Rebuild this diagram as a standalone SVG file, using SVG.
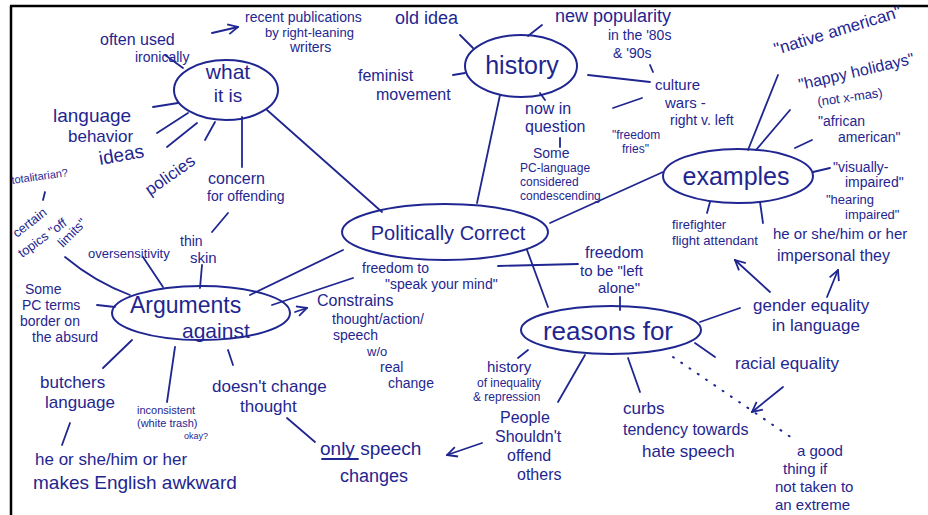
<svg xmlns="http://www.w3.org/2000/svg" width="928" height="515" viewBox="0 0 928 515">
<style>
text{font-family:"Liberation Sans",Arial,sans-serif;fill:#1f2690}
.n{fill:none;stroke:#1f2690;stroke-width:2}
.c line,.c path,.c polyline{fill:none;stroke:#1f2690;stroke-width:1.8;stroke-linecap:round}
.a{marker-end:url(#v)}
.m{text-anchor:middle}
</style>
<defs>
<marker id="v" viewBox="0 0 12 12" refX="11" refY="6" markerWidth="12" markerHeight="12" markerUnits="userSpaceOnUse" orient="auto">
<polyline points="1,1 11,6 1,11" fill="none" stroke="#1f2690" stroke-width="1.8"/>
</marker>
</defs>
<rect width="928" height="515" fill="#fff"/>
<path d="M10 6H928M11 6V515" stroke="#000" stroke-width="2.5" fill="none"/>

<g class="c" id="connectors">
<line x1="267" y1="110" x2="382" y2="212"/>
<line x1="500" y1="95" x2="477" y2="203"/>
<line x1="550" y1="223" x2="663" y2="172"/>
<line x1="527" y1="250" x2="548" y2="307"/>
<line x1="343" y1="250" x2="250" y2="295"/>
<line x1="272" y1="305" x2="353" y2="278"/>
<line x1="498" y1="266" x2="578" y2="264"/>
<line x1="620" y1="297" x2="620" y2="310"/>
<line class="a" x1="212" y1="33" x2="238" y2="27"/>
<line x1="165" y1="55" x2="183" y2="68"/>
<line x1="153" y1="107" x2="178" y2="103"/>
<line x1="157" y1="133" x2="188" y2="113"/>
<line x1="167" y1="147" x2="197" y2="123"/>
<line x1="205" y1="140" x2="215" y2="122"/>
<line x1="242" y1="117" x2="242" y2="167"/>
<line x1="460" y1="35" x2="473" y2="48"/>
<line x1="528" y1="36" x2="542" y2="25"/>
<line x1="453" y1="75" x2="465" y2="73"/>
<line x1="540" y1="93" x2="545" y2="100"/>
<line x1="560" y1="138" x2="560" y2="147"/>
<line x1="588" y1="75" x2="650" y2="82"/>
<line x1="613" y1="108" x2="642" y2="98"/>
<line x1="650" y1="65" x2="653" y2="72"/>
<line x1="748" y1="150" x2="778" y2="75"/>
<line x1="756" y1="150" x2="790" y2="110"/>
<line x1="795" y1="148" x2="812" y2="140"/>
<line x1="813" y1="172" x2="830" y2="168"/>
<line x1="710" y1="202" x2="707" y2="213"/>
<line x1="760" y1="202" x2="763" y2="223"/>
<line class="a" x1="770" y1="292" x2="735" y2="260"/>
<line class="a" x1="827" y1="297" x2="838" y2="270"/>
<line x1="700" y1="322" x2="740" y2="308"/>
<line x1="695" y1="343" x2="715" y2="357"/>
<line x1="673" y1="357" x2="795" y2="440" stroke-dasharray="1 9" style="stroke-width:2"/>
<line class="a" x1="783" y1="387" x2="752" y2="412"/>
<line x1="628" y1="358" x2="640" y2="392"/>
<line x1="528" y1="350" x2="518" y2="358"/>
<line x1="585" y1="355" x2="558" y2="402"/>
<line class="a" x1="482" y1="443" x2="447" y2="455"/>
<line x1="287" y1="418" x2="315" y2="442"/>
<line x1="228" y1="350" x2="233" y2="365"/>
<line x1="175" y1="347" x2="167" y2="402"/>
<line x1="132" y1="340" x2="103" y2="368"/>
<line x1="70" y1="423" x2="62" y2="445"/>
<line x1="97" y1="305" x2="115" y2="307"/>
<line x1="45" y1="192" x2="43" y2="200"/>
<path d="M65 257Q95 282 130 295"/>
<line x1="143" y1="257" x2="163" y2="287"/>
<line x1="202" y1="265" x2="200" y2="288"/>
<line x1="228" y1="213" x2="212" y2="232"/>
<line class="a" x1="295" y1="312" x2="307" y2="308"/>
<line x1="322" y1="459" x2="358" y2="459"/>
</g>

<g id="what-it-is">
<ellipse class="n" cx="226" cy="90" rx="52" ry="30"/>
<text class="m" x="228" y="79" font-size="21">what</text>
<text class="m" x="228" y="102" font-size="19">it is</text>
</g>
<g id="history">
<ellipse class="n" cx="521" cy="66" rx="56" ry="31"/>
<text class="m" x="522" y="74" font-size="25">history</text>
</g>
<g id="examples">
<ellipse class="n" cx="738" cy="176" rx="75" ry="27"/>
<text class="m" x="736" y="185" font-size="25">examples</text>
</g>
<g id="politically-correct">
<ellipse class="n" cx="445" cy="232" rx="103" ry="28"/>
<text class="m" x="448" y="240" font-size="20">Politically Correct</text>
</g>
<g id="arguments-against">
<ellipse class="n" cx="201" cy="313" rx="89" ry="27"/>
<text x="130" y="313" font-size="23">Arguments</text>
<text x="182" y="338" font-size="21">against</text>
</g>
<g id="reasons-for">
<ellipse class="n" cx="611" cy="330" rx="90" ry="24"/>
<text class="m" x="608" y="340" font-size="26">reasons for</text>
</g>

<g id="often-used">
<text x="100" y="45" font-size="16">often used</text>
<text x="135" y="62" font-size="14">ironically</text>
</g>
<g id="recent-publications">
<text x="245" y="22" font-size="14">recent publications</text>
<text x="265" y="37" font-size="13">by right-leaning</text>
<text x="290" y="52" font-size="14">writers</text>
</g>
<g id="old-idea"><text x="395" y="24" font-size="18">old idea</text></g>
<g id="new-popularity">
<text x="555" y="22" font-size="18">new popularity</text>
<text x="608" y="40" font-size="14">in the '80s</text>
<text x="613" y="58" font-size="14">&amp; '90s</text>
</g>
<g id="feminist">
<text x="358" y="81" font-size="16">feminist</text>
<text x="376" y="100" font-size="16">movement</text>
</g>
<g id="now-in-question">
<text x="525" y="114" font-size="16">now in</text>
<text x="525" y="132" font-size="16">question</text>
</g>
<g id="some-pc">
<text x="533" y="158" font-size="14">Some</text>
<text x="520" y="172" font-size="12">PC-language</text>
<text x="520" y="186" font-size="12">considered</text>
<text x="520" y="200" font-size="12">condescending</text>
</g>
<g id="culture-wars">
<text x="655" y="90" font-size="15">culture</text>
<text x="665" y="108" font-size="15">wars -</text>
<text x="670" y="125" font-size="14">right v. left</text>
</g>
<g id="freedom-fries">
<text x="612" y="139" font-size="12">"freedom</text>
<text x="622" y="153" font-size="12">fries"</text>
</g>
<g id="native-american"><text transform="translate(776,55) rotate(-17)" font-size="17">"native american"</text></g>
<g id="happy-holidays">
<text transform="translate(800,90) rotate(-13)" font-size="16">"happy holidays"</text>
<text transform="translate(818,106) rotate(-8)" font-size="13">(not x-mas)</text>
</g>
<g id="african-american">
<text x="818" y="126" font-size="14">"african</text>
<text x="838" y="142" font-size="14">american"</text>
</g>
<g id="visually-impaired">
<text x="833" y="172" font-size="14">"visually-</text>
<text x="845" y="187" font-size="14">impaired"</text>
</g>
<g id="hearing-impaired">
<text x="826" y="204" font-size="13">"hearing</text>
<text x="845" y="219" font-size="13">impaired"</text>
</g>
<g id="firefighter">
<text x="672" y="229" font-size="13">firefighter</text>
<text x="672" y="245" font-size="13" textLength="86" lengthAdjust="spacingAndGlyphs">flight attendant</text>
</g>
<g id="he-or-she-right">
<text x="773" y="239" font-size="15">he or she/him or her</text>
<text x="777" y="261" font-size="16">impersonal they</text>
</g>
<g id="gender-equality">
<text x="753" y="311" font-size="17">gender equality</text>
<text x="772" y="331" font-size="17">in language</text>
</g>
<g id="racial-equality"><text x="735" y="369" font-size="17">racial equality</text></g>
<g id="good-thing">
<text x="797" y="456" font-size="15">a good</text>
<text x="783" y="474" font-size="15">thing if</text>
<text x="775" y="492" font-size="15">not taken to</text>
<text x="775" y="510" font-size="15">an extreme</text>
</g>
<g id="curbs">
<text x="623" y="414" font-size="17">curbs</text>
<text x="623" y="435" font-size="16">tendency towards</text>
<text x="642" y="457" font-size="17">hate speech</text>
</g>
<g id="history-inequality">
<text x="487" y="372" font-size="15">history</text>
<text x="477" y="387" font-size="12">of inequality</text>
<text x="473" y="401" font-size="12">&amp; repression</text>
</g>
<g id="people-offend">
<text x="500" y="423" font-size="16">People</text>
<text x="495" y="442" font-size="16">Shouldn't</text>
<text x="507" y="461" font-size="16">offend</text>
<text x="517" y="480" font-size="16">others</text>
</g>
<g id="only-speech">
<text x="320" y="455" font-size="19">only speech</text>
<text x="340" y="482" font-size="18">changes</text>
</g>
<g id="doesnt-change">
<text x="212" y="392" font-size="17">doesn't change</text>
<text x="240" y="412" font-size="17">thought</text>
</g>
<g id="inconsistent">
<text x="137" y="414" font-size="11">inconsistent</text>
<text x="137" y="427" font-size="11">(white trash)</text>
<text x="184" y="439" font-size="9">okay?</text>
</g>
<g id="butchers">
<text x="40" y="388" font-size="17">butchers</text>
<text x="45" y="408" font-size="17">language</text>
</g>
<g id="he-or-she-left">
<text x="35" y="465" font-size="17">he or she/him or her</text>
<text x="33" y="489" font-size="19">makes English awkward</text>
</g>
<g id="some-pc-terms">
<text x="25" y="294" font-size="14">Some</text>
<text x="22" y="310" font-size="14">PC terms</text>
<text x="20" y="326" font-size="14">border on</text>
<text x="32" y="342" font-size="14">the absurd</text>
</g>
<g id="totalitarian"><text transform="translate(12,184) rotate(-8)" font-size="11">totalitarian?</text></g>
<g id="certain-topics">
<text transform="translate(17,238) rotate(-38)" font-size="13">certain</text>
<text transform="translate(22,258) rotate(-36)" font-size="13">topics "off</text>
<text transform="translate(63,248) rotate(-45)" font-size="13">limits"</text>
</g>
<g id="oversensitivity"><text x="88" y="258" font-size="13">oversensitivity</text></g>
<g id="thin-skin">
<text x="180" y="246" font-size="14">thin</text>
<text x="190" y="263" font-size="15">skin</text>
</g>
<g id="concern">
<text x="208" y="184" font-size="16">concern</text>
<text x="207" y="201" font-size="14">for offending</text>
</g>
<g id="language"><text x="53" y="122" font-size="19">language</text></g>
<g id="behavior"><text x="68" y="142" font-size="17">behavior</text></g>
<g id="ideas"><text transform="translate(100,165) rotate(-10)" font-size="19">ideas</text></g>
<g id="policies"><text transform="translate(150,196) rotate(-35)" font-size="17">policies</text></g>
<g id="freedom-speak">
<text x="362" y="273" font-size="14">freedom to</text>
<text x="385" y="289" font-size="14">"speak your mind"</text>
</g>
<g id="constrains">
<text x="317" y="306" font-size="16">Constrains</text>
<text x="332" y="324" font-size="14">thought/action/</text>
<text x="333" y="340" font-size="14">speech</text>
<text x="367" y="356" font-size="13">w/o</text>
<text x="380" y="372" font-size="14">real</text>
<text x="388" y="388" font-size="14">change</text>
</g>
<g id="freedom-alone">
<text x="585" y="258" font-size="16">freedom</text>
<text x="580" y="276" font-size="15">to be "left</text>
<text x="598" y="293" font-size="15">alone"</text>
</g>
</svg>
